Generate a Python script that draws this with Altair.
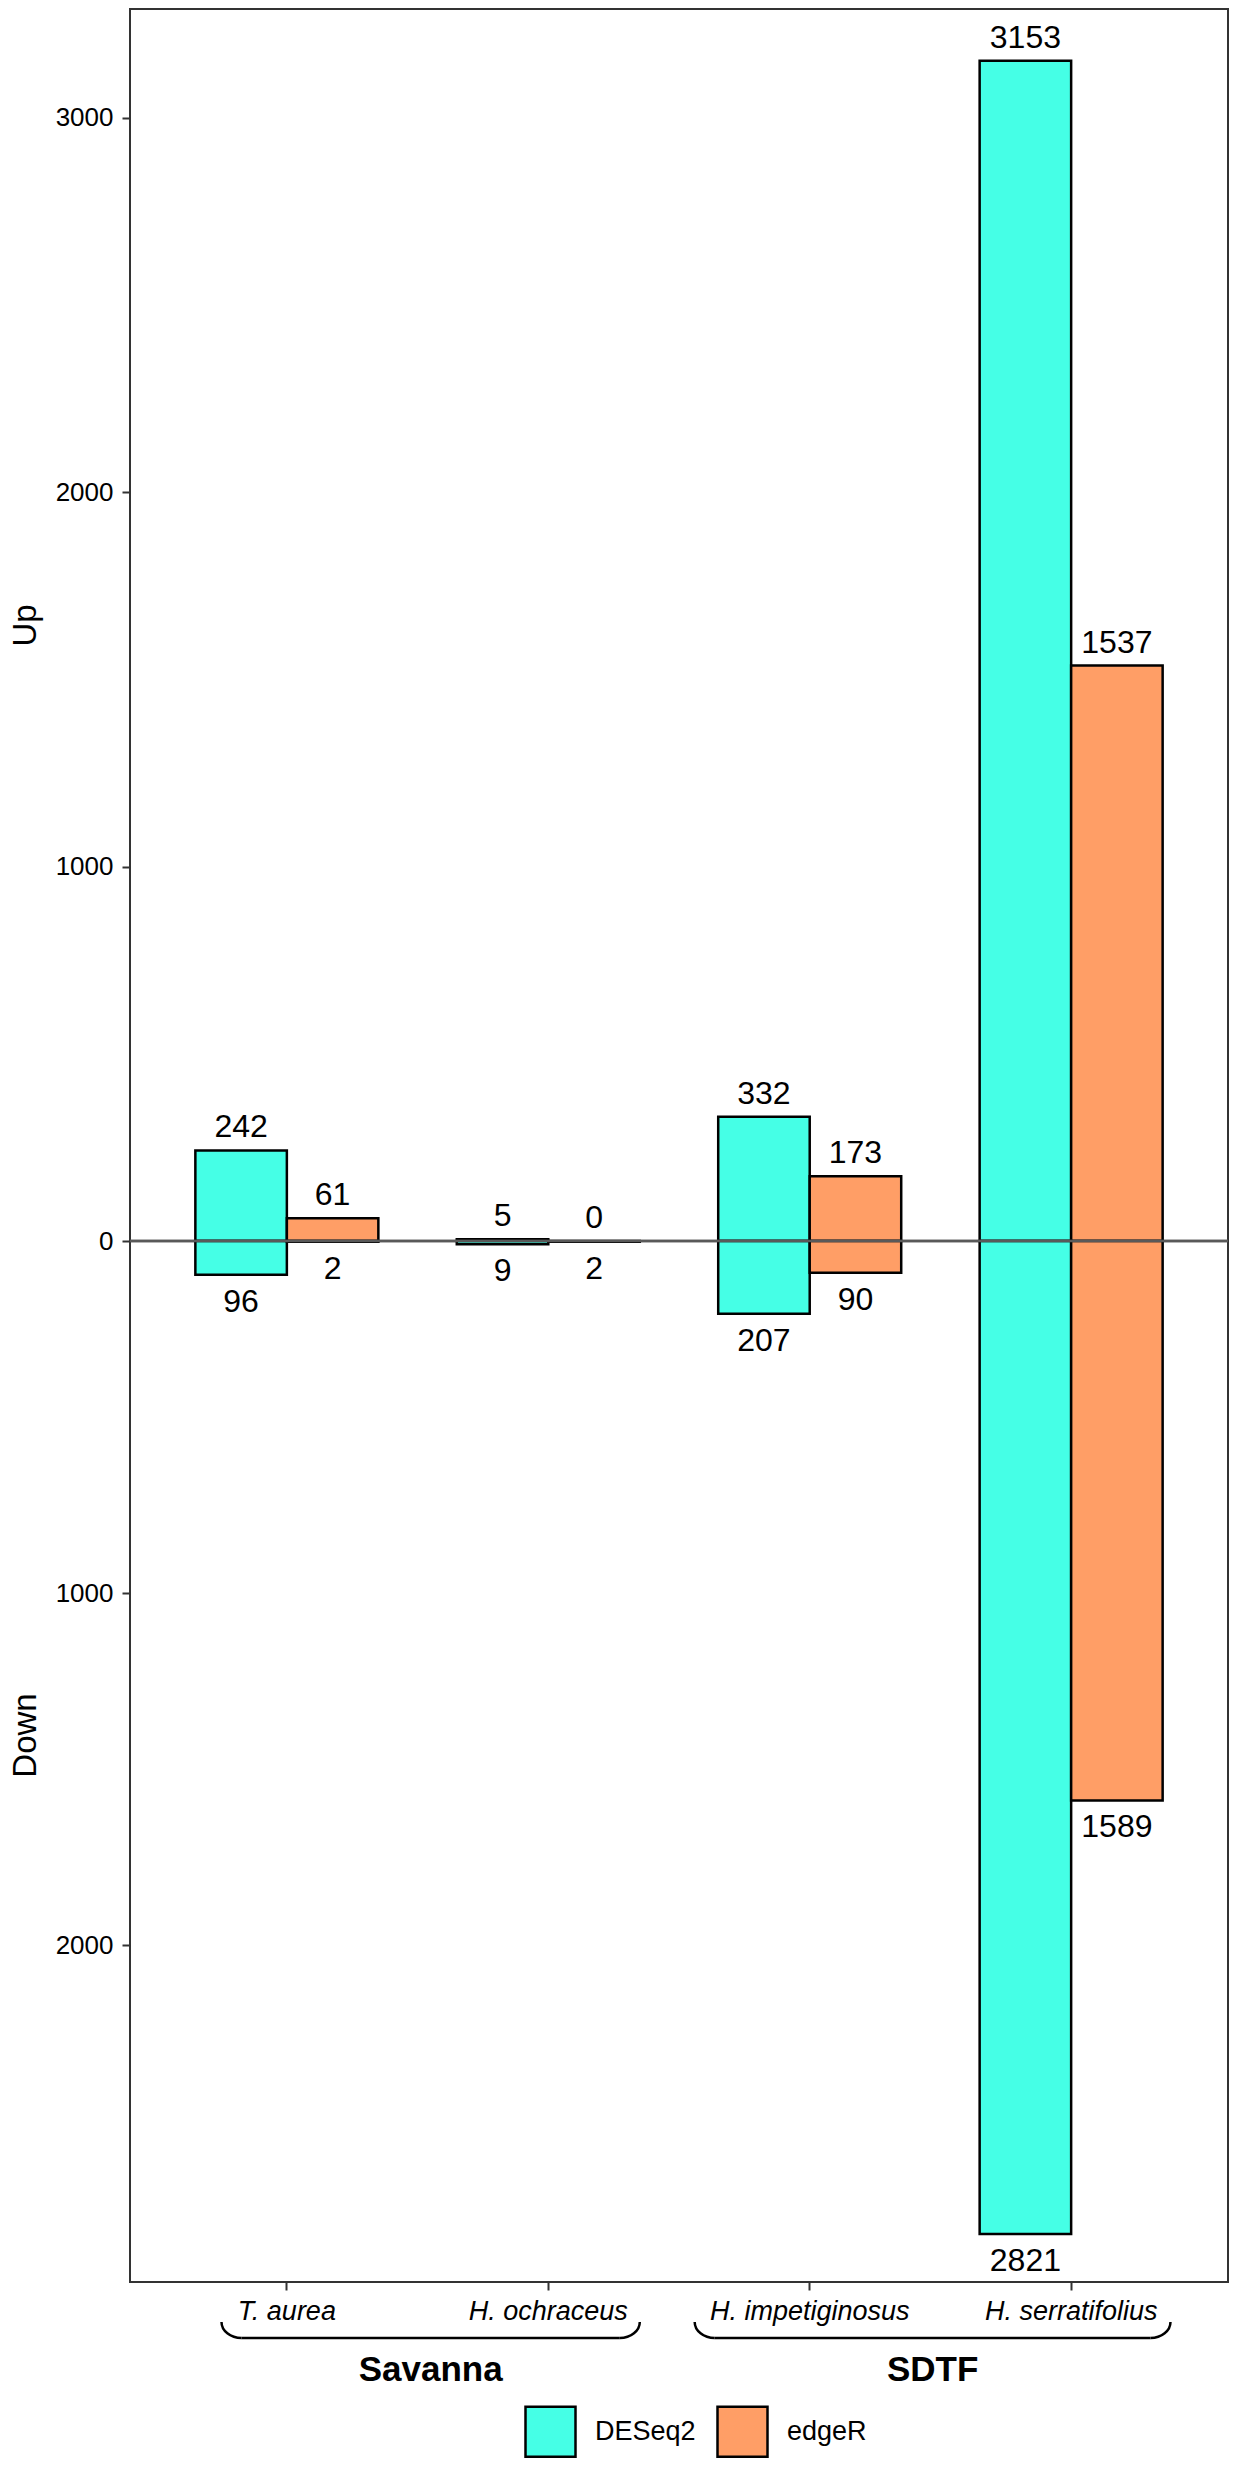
import altair as alt
import pandas as pd

FONT = "Liberation Sans"

# ---- data ----
species = ["T. aurea", "H. ochraceus", "H. impetiginosus", "H. serratifolius"]
methods = ["DESeq2", "edgeR"]
deseq2_up = [242, 5, 332, 3153]
deseq2_down = [96, 9, 207, 2821]
edger_up = [61, 0, 173, 1537]
edger_down = [2, 2, 90, 1589]
colors = ["#45FFE6", "#FF9E66"]

groups = ["Savanna", "SDTF"]
group_start = [0.75, 2.56]   # bracket extent in category units (1..4)
group_end = [2.35, 4.38]

rows = []
for i, s in enumerate(species):
    rows.append(dict(species=s, method="DESeq2", up=deseq2_up[i], down=deseq2_down[i]))
    rows.append(dict(species=s, method="edgeR", up=edger_up[i], down=edger_down[i]))
df = pd.DataFrame(rows)

gdf = pd.DataFrame({"group": groups, "start": group_start, "end": group_end})
gdf["mid"] = (gdf["start"] + gdf["end"]) / 2
zdf = pd.DataFrame({"z": [0]})

W = 1098
H_UP = 1232
H_DOWN = 1041
UP_MAX = 3291
DOWN_MAX = 2957

xscale = alt.Scale(domain=species, paddingInner=0.3, paddingOuter=0.25)
offscale = alt.Scale(domain=methods, paddingInner=0, paddingOuter=0)
color = alt.Color(
    "method:N",
    scale=alt.Scale(domain=methods, range=colors),
    legend=alt.Legend(
        title=None, orient="none", legendX=394, legendY=2396, direction="horizontal",
        symbolType="square", symbolSize=2500, symbolStrokeColor="black",
        symbolStrokeWidth=2.5, symbolOpacity=1, labelFontSize=27, labelOffset=18,
        columnPadding=16, labelLimit=400, labelColor="black", padding=0,
    ),
)

yaxis_common = dict(
    domain=False, grid=False, tickSize=8, tickColor="#333333", tickWidth=2,
    labelFontSize=26, labelColor="black", labelPadding=9, format="d",
    titleFontSize=33, titleFontWeight="normal", titleColor="black", titlePadding=13,
)

# ---------------- Up panel ----------------
x_top = alt.X("species:N", sort=species, scale=xscale, axis=None)
xo = alt.XOffset("method:N", sort=methods, scale=offscale)

up_bars = alt.Chart(df).transform_filter("datum.up > 0").mark_bar(
    stroke="black", strokeWidth=2.5
).encode(
    x=x_top, xOffset=xo,
    y=alt.Y("up:Q", scale=alt.Scale(domain=[0, UP_MAX], nice=False),
            axis=alt.Axis(values=[0, 1000, 2000, 3000], title="Up", **yaxis_common)),
    color=color,
)
up_text = alt.Chart(df).mark_text(
    fontSize=32, baseline="alphabetic", dy=-13, color="black", align="center"
).encode(x=x_top, xOffset=xo, y=alt.Y("up:Q"), text="up:Q")
zero_top = alt.Chart(zdf).mark_rule(color="#595959", strokeWidth=2.5).encode(y=alt.Y("z:Q"))

top = alt.layer(up_bars, up_text, zero_top).properties(width=W, height=H_UP)

# ---------------- Down panel ----------------
x_bot = alt.X(
    "species:N", sort=species, scale=xscale,
    axis=alt.Axis(title=None, labelAngle=0, labelFontStyle="italic", labelFontSize=27,
                  labelColor="black", tickSize=8, tickColor="#333333", tickWidth=2,
                  labelPadding=8, domain=False, grid=False, labelLimit=400),
)
down_bars = alt.Chart(df).transform_filter("datum.down > 0").mark_bar(
    stroke="black", strokeWidth=2.5
).encode(
    x=x_bot, xOffset=xo,
    y=alt.Y("down:Q", scale=alt.Scale(domain=[0, DOWN_MAX], nice=False, reverse=True),
            axis=alt.Axis(values=[1000, 2000], title="Down", titleY=494, **yaxis_common)),
    color=color,
)
down_text = alt.Chart(df).mark_text(
    fontSize=32, baseline="alphabetic", dy=37, color="black", align="center"
).encode(x=x_bot, xOffset=xo, y=alt.Y("down:Q"), text="down:Q")
zero_bot = alt.Chart(zdf).mark_rule(color="#595959", strokeWidth=2.5).encode(y=alt.Y("z:Q"))

# group brackets and labels below the axis
bx = alt.Scale(domain=[0.4, 4.6], nice=False, zero=False)
CW = 20          # width of a curved bracket end (px)
LINE_Y = H_DOWN + 56
LEFT_END = "M -1 -0.6 A 2 1.6 0 0 0 1 1"
RIGHT_END = "M 1 -0.6 A 2 1.6 0 0 1 -1 1"

bracket_line = alt.Chart(gdf).mark_rule(
    stroke="black", strokeWidth=2.5, xOffset=CW, x2Offset=-CW
).encode(x=alt.X("start:Q", scale=bx, axis=None), x2="end:Q", y=alt.value(LINE_Y))
left_end = alt.Chart(gdf).mark_point(
    shape=LEFT_END, size=CW * CW, filled=False, stroke="black", strokeWidth=2.5,
    opacity=1, xOffset=CW / 2,
).encode(x=alt.X("start:Q", scale=bx, axis=None), y=alt.value(LINE_Y - CW / 2))
right_end = alt.Chart(gdf).mark_point(
    shape=RIGHT_END, size=CW * CW, filled=False, stroke="black", strokeWidth=2.5,
    opacity=1, xOffset=-CW / 2,
).encode(x=alt.X("end:Q", scale=bx, axis=None), y=alt.value(LINE_Y - CW / 2))
group_text = alt.Chart(gdf).mark_text(
    fontSize=35, fontWeight="bold", baseline="alphabetic", color="black"
).encode(x=alt.X("mid:Q", scale=bx, axis=None), y=alt.value(H_DOWN + 99), text="group:N")

bottom = alt.layer(
    alt.layer(down_bars, down_text, zero_bot),
    alt.layer(bracket_line, left_end, right_end, group_text),
).resolve_scale(x="independent").properties(width=W, height=H_DOWN)

chart = alt.vconcat(top, bottom, spacing=0, bounds="flush").properties(
    padding=0
).configure(font=FONT).configure_view(stroke="#333333", strokeWidth=2)

chart.save("out.html", embed_options={"renderer": "svg", "actions": False})
